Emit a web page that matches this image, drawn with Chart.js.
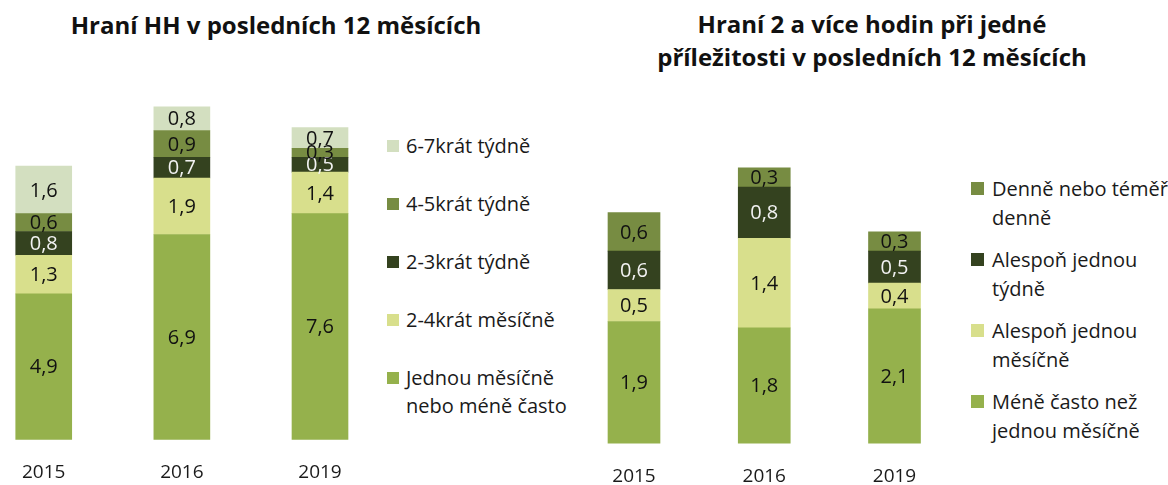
<!DOCTYPE html>
<html>
<head>
<meta charset="utf-8">
<script src="https://cdn.jsdelivr.net/npm/chart.js@4.4.1/dist/chart.umd.min.js"></script>
<style>
  html, body { margin: 0; padding: 0; background: #ffffff; }
  body { width: 1168px; height: 485px; position: relative; overflow: hidden; font-family: "Open Sans", "Noto Sans", sans-serif; color: #1a1a1a; }
  .title { position: absolute; text-align: center; font-weight: bold; font-size: 24px; line-height: 33px; color: #111; }
  .cv { position: absolute; top: 0; }
  .legend-item { position: absolute; font-size: 20px; white-space: nowrap; }
  .legend-item .sw { position: absolute; left: 0; }
  .legend-item .tx { position: absolute; }
</style>
</head>
<body>
<div class="title" id="titleL" style="left:0; top:8px; width:552px;"></div>
<div class="title" id="titleR" style="left:580px; top:7px; width:584px;"></div>
<div class="cv" style="left:0; width:380px; height:510px;"><canvas id="chartL" width="380" height="510"></canvas></div>
<div class="cv" style="left:580px; width:380px; height:510px;"><canvas id="chartR" width="380" height="510"></canvas></div>
<div id="legendL"></div>
<div id="legendR"></div>
<script>
// ---------- data ----------
const categories = ['2015', '2016', '2019'];

// Left chart: Hraní HH v posledních 12 měsících
const titleLeft = 'Hraní HH v posledních 12 měsících';
const jednouMesicne = [4.9, 6.9, 7.6];
const dvaCtyriMesicne = [1.3, 1.9, 1.4];
const dvaTriTydne = [0.8, 0.7, 0.5];
const ctyriPetTydne = [0.6, 0.9, 0.3];
const sestSedmTydne = [1.6, 0.8, 0.7];
const labelsLeft = [
  ['Jednou měsíčně', 'nebo méně často'],
  ['2-4krát měsíčně'],
  ['2-3krát týdně'],
  ['4-5krát týdně'],
  ['6-7krát týdně']
];

// Right chart: Hraní 2 a více hodin při jedné příležitosti
const titleRight = ['Hraní 2 a více hodin při jedné', 'příležitosti v posledních 12 měsících'];
const meneNezMesicne = [1.9, 1.8, 2.1];
const alesponMesicne = [0.5, 1.4, 0.4];
const alesponTydne = [0.6, 0.8, 0.5];
const denne = [0.6, 0.3, 0.3];
const labelsRight = [
  ['Méně často než', 'jednou měsíčně'],
  ['Alespoň jednou', 'měsíčně'],
  ['Alespoň jednou', 'týdně'],
  ['Denně nebo téměř', 'denně']
];

// ---------- styles ----------
const cMain = '#95b14c';
const cLight = '#d8df8c';
const cDark = '#34421f';
const cMid = '#778c42';
const cPale = '#d3dfc0';
const FONT = '"Open Sans", "Noto Sans", sans-serif';

document.getElementById('titleL').textContent = titleLeft;
document.getElementById('titleR').innerHTML = titleRight.join('<br>');

const valueLabels = {
  id: 'valueLabels',
  afterDatasetsDraw(chart) {
    const ctx = chart.ctx;
    ctx.save();
    ctx.font = '20px ' + FONT;
    ctx.textAlign = 'center';
    ctx.textBaseline = 'middle';
    chart.data.datasets.forEach((ds, i) => {
      const meta = chart.getDatasetMeta(i);
      meta.data.forEach((bar, j) => {
        const v = ds.data[j];
        ctx.fillStyle = ds.labelColor;
        ctx.fillText(v.toFixed(1).replace('.', ','), bar.x, (bar.y + bar.base) / 2 + 1);
      });
    });
    ctx.restore();
  }
};

function makeChart(id, datasets, thickness, padding, yMax, tickPad) {
  return new Chart(document.getElementById(id), {
    type: 'bar',
    data: {
      labels: categories,
      datasets: datasets.map(d => ({
        label: d.label.join(' '),
        data: d.data,
        backgroundColor: d.color,
        labelColor: d.labelColor,
        barThickness: thickness,
        borderWidth: 0,
        clip: false
      }))
    },
    options: {
      responsive: false,
      animation: false,
      devicePixelRatio: 1,
      layout: { padding: padding },
      plugins: { legend: { display: false }, title: { display: false }, tooltip: { enabled: false } },
      scales: {
        x: {
          stacked: true,
          offset: false,
          grid: { display: false, drawTicks: false },
          border: { display: false },
          ticks: { font: { family: FONT, size: 19 }, color: '#1a1a1a', padding: tickPad }
        },
        y: { stacked: true, display: false, min: 0, max: yMax }
      }
    },
    plugins: [valueLabels]
  });
}

const dsLeft = [
  { label: labelsLeft[0], data: jednouMesicne, color: cMain, labelColor: '#111' },
  { label: labelsLeft[1], data: dvaCtyriMesicne, color: cLight, labelColor: '#111' },
  { label: labelsLeft[2], data: dvaTriTydne, color: cDark, labelColor: '#f2f2f2' },
  { label: labelsLeft[3], data: ctyriPetTydne, color: cMid, labelColor: '#111' },
  { label: labelsLeft[4], data: sestSedmTydne, color: cPale, labelColor: '#111' }
];
const dsRight = [
  { label: labelsRight[0], data: meneNezMesicne, color: cMain, labelColor: '#111' },
  { label: labelsRight[1], data: alesponMesicne, color: cLight, labelColor: '#111' },
  { label: labelsRight[2], data: alesponTydne, color: cDark, labelColor: '#f2f2f2' },
  { label: labelsRight[3], data: denne, color: cMid, labelColor: '#111' }
];

// canvas 510 tall (bottom part hidden) so that baseline sits at ~439 / ~443
makeChart('chartL', dsLeft, 56, { left: 39.5, right: 60, top: 83, bottom: 3.8 }, 12, 22);
makeChart('chartR', dsRight, 52, { left: 54, right: 65.5, top: 123, bottom: 0 }, 5, 22);

// ---------- HTML legends (top item = last series) ----------
function buildLegend(containerId, ds, x, swSize, firstCenter, step, lineH, textOffset) {
  const box = document.getElementById(containerId);
  const items = ds.slice().reverse();
  items.forEach((d, i) => {
    const cy = firstCenter + i * step;
    const item = document.createElement('div');
    item.className = 'legend-item';
    item.style.left = x + 'px';
    item.style.top = (cy - lineH / 2) + 'px';
    item.style.lineHeight = lineH + 'px';
    const sw = document.createElement('div');
    sw.className = 'sw';
    sw.style.width = swSize + 'px';
    sw.style.height = swSize + 'px';
    sw.style.top = (lineH / 2 - swSize / 2) + 'px';
    sw.style.background = d.color;
    const tx = document.createElement('div');
    tx.className = 'tx';
    tx.style.left = textOffset + 'px';
    tx.style.top = '0px';
    tx.innerHTML = d.label.join('<br>');
    item.appendChild(sw);
    item.appendChild(tx);
    box.appendChild(item);
  });
}
buildLegend('legendL', dsLeft, 387, 12, 146, 58, 28, 19);
buildLegend('legendR', dsRight, 971, 13, 188, 71, 29, 21);
</script>
</body>
</html>
